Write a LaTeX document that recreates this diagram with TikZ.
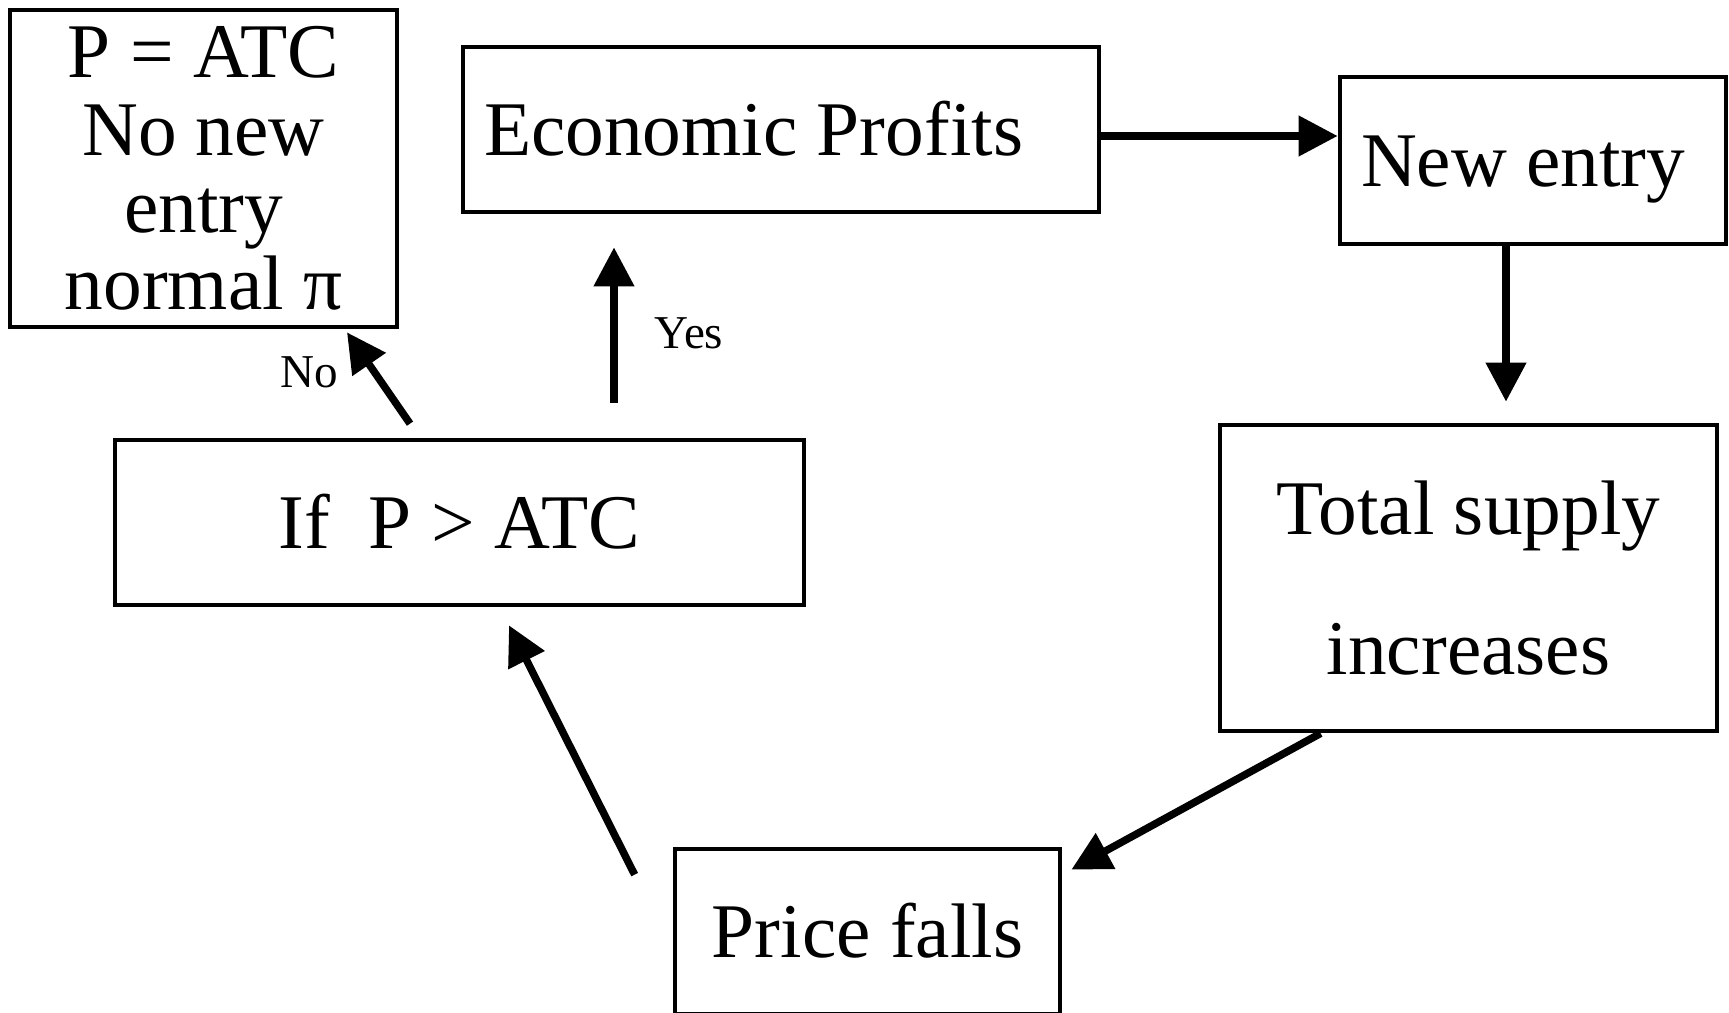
\documentclass[tikz,border=0pt]{standalone}
\usepackage{fontspec}
\setmainfont{Liberation Serif}
\usetikzlibrary{arrows.meta, positioning, calc}

\begin{document}
\begin{tikzpicture}[
        box/.style={draw, line width=0.047cm, inner sep=0pt, font=\fontsize{22}{22}\selectfont},
        onebox/.style={box, text height=0.51cm, text depth=0pt},
        leftbox/.style={onebox, align=flush left, inner xsep=0.21cm},
        arr/.style={line width=0.075cm, -{Triangle[length=0.39cm, width=0.39cm]}},
        lbl/.style={font=\fontsize{13.4}{13.4}\selectfont}
    ]
        \useasboundingbox (0,0) rectangle (17.29,10.12);

        % boxes
        \node[box, align=center, minimum width=3.87cm, minimum height=3.17cm] (equil) at (2.035,8.435) {P = ATC\\No new\\entry\\normal π};
        \node[leftbox, text width=5.94cm, minimum height=1.65cm] (profit) at (7.81,8.825) {Economic Profits};
        \node[leftbox, text width=3.44cm, minimum height=1.67cm] (entry) at (15.33,8.515) {New entry};
        \node[box, align=center, minimum width=4.97cm, minimum height=3.06cm, font=\fontsize{22}{39.8}\selectfont] (supply) at (14.685,4.34) {Total supply\\increases};
        \node[onebox, minimum width=6.89cm, minimum height=1.65cm] (cond) at (4.595,4.895) {If\ \ P > ATC};
        \node[onebox, minimum width=3.85cm, minimum height=1.65cm] (price) at (8.675,0.805) {Price falls};

        % cycle
        \draw[arr] ([yshift=-0.065cm]profit.east) -- ([yshift=-0.065cm]profit.east -| entry.west);
        \draw[arr, shorten >=0.21cm] ([xshift=-0.27cm]entry.south) -- ([xshift=-0.27cm]entry.south |- supply.north);
        \draw[arr] ($(supply.south west)+(1.03,0)$) -- ($(price.north east)+(0.09,-0.23)$);
        \draw[arr] ($(price.north west)+(-0.38,-0.28)$) -- ($(cond.south)+(0.495,-0.18)$);

        % yes / no
        \draw[arr, shorten <=0.35cm, shorten >=0.33cm] ([xshift=1.545cm]cond.north) -- ([xshift=1.545cm]cond.north |- profit.south);
        \node[lbl] (yes) at (6.89,6.79) {Yes};
        \draw[arr] ($(cond.north)+(-0.495,0.14)$) -- ($(equil.south)+(1.435,-0.03)$);
        \node[lbl] (no) at (3.09,6.40) {No};
    \end{tikzpicture}
\end{document}
